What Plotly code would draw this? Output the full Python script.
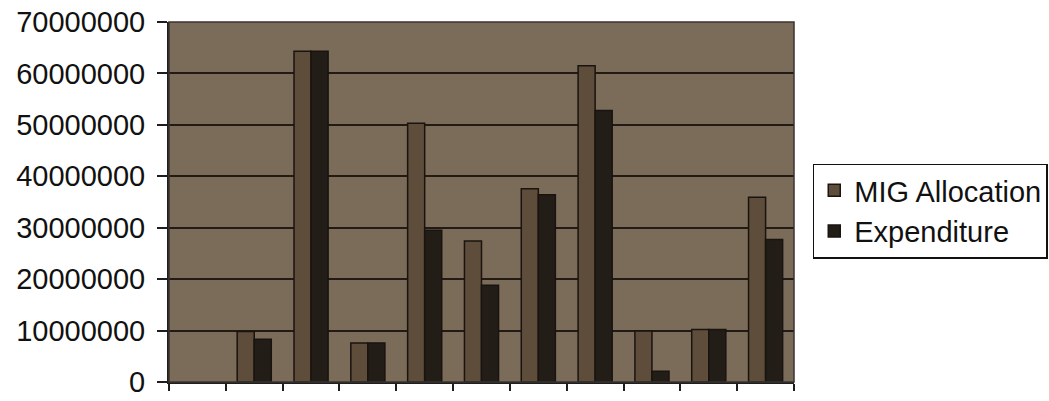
import plotly.graph_objects as go

categories = ["1", "2", "3", "4", "5", "6", "7", "8", "9", "10", "11"]
allocation = [None, 9800000, 64300000, 7600000, 50300000, 27400000, 37600000, 61500000, 9900000, 10200000, 35900000]
expenditure = [None, 8300000, 64300000, 7600000, 29500000, 18800000, 36400000, 52800000, 2100000, 10200000, 27700000]
y_ticks = [0, 10000000, 20000000, 30000000, 40000000, 50000000, 60000000, 70000000]

fig = go.Figure()
fig.add_trace(go.Bar(x=categories, y=allocation, name="MIG Allocation",
                     marker=dict(color="#5f4d3b", line=dict(color="#1a1410", width=1.5))))
fig.add_trace(go.Bar(x=categories, y=expenditure, name="Expenditure",
                     marker=dict(color="#231d18", line=dict(color="#1a1410", width=1.5))))

fig.update_layout(
    width=1049, height=401,
    margin=dict(l=169, r=255, t=22, b=19, autoexpand=False),
    paper_bgcolor="white",
    plot_bgcolor="#7b6b59",
    barmode="group",
    bargap=0.4,
    bargroupgap=0,
    font=dict(family="Liberation Sans, Arial, sans-serif", size=29, color="#111111"),
    legend=dict(x=1.03, y=0.475, xanchor="left", yanchor="middle",
                bordercolor="#111111", borderwidth=1.5, bgcolor="white",
                font=dict(size=29), tracegroupgap=0, itemwidth=30),
    showlegend=True,
)
fig.update_xaxes(type="category", showticklabels=False, ticks="outside", tickson="boundaries",
                 ticklen=7, tickwidth=2, tickcolor="#1e1e1e", showline=True, linecolor="#1e1e1e",
                 linewidth=2, mirror=False, showgrid=False, automargin=False)
fig.update_yaxes(range=[0, 70000000], tickvals=y_ticks, ticktext=[str(v) for v in y_ticks],
                 ticks="outside", ticklen=10, tickwidth=2, tickcolor="#1e1e1e",
                 ticklabelstandoff=6, automargin=False, ticklabeloverflow="allow",
                 showline=True, linecolor="#1e1e1e", linewidth=2,
                 showgrid=True, gridcolor="#221a14", gridwidth=2, zeroline=False)
# top/right border of the plot area
fig.add_shape(type="rect", xref="paper", yref="paper", x0=0, x1=1, y0=0, y1=1,
              line=dict(color="#3a3530", width=1.5), layer="above")

fig.write_html("out.html")
